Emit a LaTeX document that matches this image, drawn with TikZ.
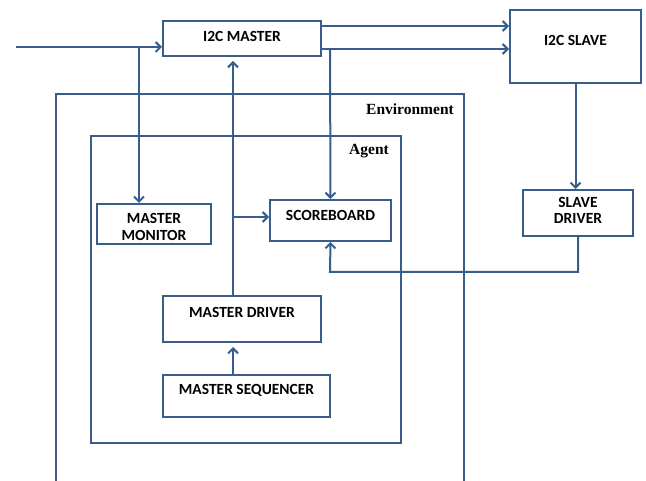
\documentclass[tikz,border=0pt]{standalone}
\usepackage{fontspec}
\setmainfont{Liberation Serif}
\setsansfont{Carlito}
\usetikzlibrary{arrows.meta,positioning}
\definecolor{lineblue}{RGB}{56,93,138}

\begin{document}
\begin{tikzpicture}[x=1pt,y=-1pt,->,>={Straight Barb[length=5pt,width=10pt]},
    wire/.style={draw=lineblue,line width=2pt},
    blk/.style={rectangle,draw=lineblue,line width=2pt,inner sep=0pt},
    lbl/.style={font=\sffamily\bfseries\fontsize{15.5}{16.5}\selectfont,align=center,inner sep=0pt},
    tag/.style={font=\rmfamily\bfseries\fontsize{15.5}{17}\selectfont,inner sep=0pt}]

    \useasboundingbox (0,0) rectangle (646,481);

    % environment and agent
    \draw[-,wire] (56,481) -- (56,94) -- (464,94) -- (464,481);
    \node[tag] (envtag) at (410,109) {Environment};
    \draw[-,wire] (91,136) rectangle (401,443);
    \node[tag] (agenttag) at (369,151) {Agent};

    \node[blk,
          minimum width = 158pt,
          minimum height = 35pt
          ] (master) at (242,38.5) {};
    \node[lbl] (mastertxt) at ([yshift=2.5pt]master.center) {I2C MASTER};

    \node[blk,
          minimum width = 131pt,
          minimum height = 73pt
          ] (slave) at (575.5,46.5) {};
    \node[lbl] (slavetxt) at ([yshift=6.5pt]slave.center) {I2C SLAVE};

    \node[blk,
          minimum width = 114pt,
          minimum height = 40pt
          ] (mon) at (154,224) {};
    \node[lbl] (montxt) at ([yshift=-3pt]mon.center) {MASTER\\MONITOR};

    \node[blk,
          minimum width = 121pt,
          minimum height = 41pt
          ] (sb) at (330.5,220.5) {};
    \node[lbl] (sbtxt) at ([yshift=5.5pt]sb.center) {SCOREBOARD};

    \node[blk,
          minimum width = 158pt,
          minimum height = 46pt
          ] (md) at (242,319) {};
    \node[lbl] (mdtxt) at ([yshift=7pt]md.center) {MASTER DRIVER};

    \node[blk,
          minimum width = 167pt,
          minimum height = 42pt
          ] (ms) at (246.5,396) {};
    \node[lbl] (mstxt) at ([yshift=6pt]ms.center) {MASTER SEQUENCER};

    \node[blk,
          minimum width = 110pt,
          minimum height = 46pt
          ] (sd) at (578,213) {};
    \node[lbl] (sdtxt) at ([yshift=2.5pt]sd.center) {SLAVE\\DRIVER};

    \coordinate (in) at (16,47);
    \coordinate (tap1) at (139,47);
    \coordinate (tap2) at (330,49);
    \coordinate (tap3) at (233,217);
    \coordinate (back) at (330,272);

    % master side
    \draw[wire] (in) -- (in -| master.west);
    \draw[wire] (tap1) -- (tap1 |- mon.north);
    \draw[wire] ([yshift=12.5pt]master.east) -- ([yshift=12.5pt]master.east -| slave.west);
    \draw[wire] ([yshift=-10.5pt]master.east) -- ([yshift=-10.5pt]master.east -| slave.west);
    \draw[wire] (tap2) -- (sb.north);
    % slave side
    \draw[wire] (slave.south) -- (slave.south |- sd.north);
    \draw[wire] (sd.south) |- (back) -- (sb.south);
    % driver path
    \draw[wire,shorten >=4pt] (tap3 |- md.north) -- (tap3 |- master.south);
    \draw[wire] (tap3) -- (tap3 -| sb.west);
    \draw[wire,shorten >=4pt] (tap3 |- ms.north) -- (tap3 |- md.south);

\end{tikzpicture}
\end{document}
